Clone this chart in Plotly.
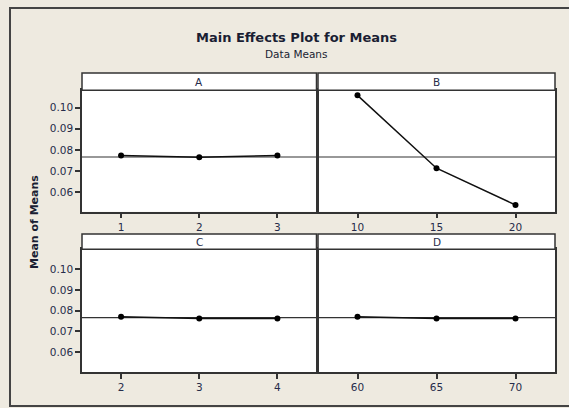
import plotly.graph_objects as go

W, H = 569, 408

factors = ["A", "B", "C", "D"]
levels = {
    "A": [1, 2, 3],
    "B": [10, 15, 20],
    "C": [2, 3, 4],
    "D": [60, 65, 70],
}
means = {
    "A": [0.0773, 0.0765, 0.0773],
    "B": [0.1058, 0.0713, 0.0539],
    "C": [0.0770, 0.0762, 0.0762],
    "D": [0.0770, 0.0762, 0.0762],
}
grand_mean = 0.0766
y_ticks = [0.06, 0.07, 0.08, 0.09, 0.10]
y_ticktext = ["0.06", "0.07", "0.08", "0.09", "0.10"]

BG = "#EEEAE0"
LINE = "#333333"
TXT = "#262C4A"
FONT = "DejaVu Sans"

def px(x):
    return x / W

def py(y):
    return 1 - y / H

# panel geometry (pixels)
cols = [(82, 316.5), (318, 555)]
rows = [(73, 90.3, 211.5), (234, 249.3, 372)]  # strip top, plot top, plot bottom
yranges = [[0.0508, 0.1082], [0.0503, 0.1097]]

fig = go.Figure()
bg_shapes = []
shapes = []
annotations = []

for i, f in enumerate(factors):
    r, c = divmod(i, 2)
    n = i + 1
    xa = "xaxis" if n == 1 else f"xaxis{n}"
    ya = "yaxis" if n == 1 else f"yaxis{n}"
    xr = "x" if n == 1 else f"x{n}"
    yr = "y" if n == 1 else f"y{n}"
    x0, x1 = cols[c]
    st, pt, pb = rows[r]
    lv = levels[f]
    step = lv[1] - lv[0]
    fig.add_trace(go.Scatter(
        x=lv, y=means[f], mode="lines+markers",
        line=dict(color="#111111", width=1.5),
        marker=dict(color="#000000", size=6),
        xaxis=xr, yaxis=yr, showlegend=False, hoverinfo="skip",
    ))
    fig.layout[xa] = dict(
        domain=[px(x0), px(x1)], anchor=yr,
        range=[lv[0] - step / 2, lv[-1] + step / 2],
        tickvals=lv, ticktext=[str(v) for v in lv],
        ticks="outside", ticklen=5, tickwidth=1.5, tickcolor=LINE,
        showline=True, mirror=True, linecolor=LINE, linewidth=1.5,
        showgrid=False, zeroline=False,
        tickfont=dict(family=FONT, size=10.5, color=TXT),
    )
    yd = dict(
        domain=[py(pb), py(pt)], anchor=xr,
        range=yranges[r],
        showline=True, mirror=True, linecolor=LINE, linewidth=1.5,
        showgrid=False, zeroline=False,
        tickfont=dict(family=FONT, size=10.5, color=TXT),
    )
    if c == 0:
        yd.update(tickvals=y_ticks, ticktext=y_ticktext, ticks="outside",
                  ticklen=5, tickwidth=1.5, tickcolor=LINE)
    else:
        yd.update(showticklabels=False, ticks="")
    fig.layout[ya] = yd
    # white plot area (paper-referenced, below traces)
    bg_shapes.append(dict(type="rect", xref="paper", yref="paper",
                          x0=px(x0), x1=px(x1), y0=py(pb), y1=py(pt),
                          fillcolor="#FFFFFF", line=dict(width=0), layer="below"))
    # reference line at grand mean
    shapes.append(dict(type="line", xref=f"{xr} domain", yref=yr,
                       x0=0, x1=1, y0=grand_mean, y1=grand_mean,
                       line=dict(color=LINE, width=1.2), layer="below"))
    # strip
    shapes.append(dict(type="rect", xref="paper", yref="paper",
                       x0=px(x0), x1=px(x1), y0=py(pt), y1=py(st),
                       fillcolor="white", line=dict(color=LINE, width=1.5)))
    annotations.append(dict(text=f, xref="paper", yref="paper",
                            x=(px(x0) + px(x1)) / 2, y=(py(pt) + py(st)) / 2,
                            showarrow=False, xanchor="center", yanchor="middle",
                            font=dict(family=FONT, size=10.5, color=TXT)))

# outer frame (line only)
shapes.append(dict(type="rect", xref="paper", yref="paper",
                   x0=px(10), x1=px(575), y0=py(406), y1=py(8),
                   fillcolor="rgba(0,0,0,0)", line=dict(color="#444444", width=2)))

annotations += [
    dict(text="<b>Main Effects Plot for Means</b>", xref="paper", yref="paper",
         x=px(296), y=py(37), showarrow=False, xanchor="center", yanchor="middle",
         font=dict(family=FONT, size=13, color="#1A1E33")),
    dict(text="Data Means", xref="paper", yref="paper",
         x=px(296), y=py(54), showarrow=False, xanchor="center", yanchor="middle",
         font=dict(family=FONT, size=10.5, color="#1A1E33")),
    dict(text="<b>Mean of Means</b>", xref="paper", yref="paper",
         x=px(35), y=py(222), showarrow=False, textangle=-90,
         xanchor="center", yanchor="middle",
         font=dict(family=FONT, size=11, color="#1A1E33")),
]

fig.update_layout(
    width=W, height=H, margin=dict(l=0, r=0, t=0, b=0),
    paper_bgcolor=BG, plot_bgcolor="#FFFFFF",
    shapes=bg_shapes + shapes, annotations=annotations,
)

fig.write_html("out.html")
